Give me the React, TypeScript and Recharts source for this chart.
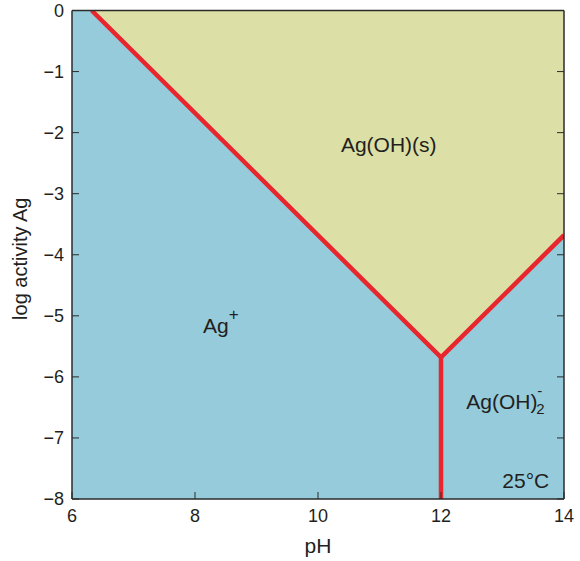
import React from "react";
import {
  ComposedChart,
  XAxis,
  YAxis,
  Area,
  Line,
  ReferenceArea,
  ReferenceDot,
} from "recharts";

// Ag predominance diagram at 25 °C: log activity Ag vs pH
const PH_TICKS = [6, 8, 10, 12, 14];
const LOG_TICKS = [0, -1, -2, -3, -4, -5, -6, -7, -8];
const PH_DOMAIN = [6, 14];
const LOG_DOMAIN = [-8, 0];

// Ag(OH)(s) solubility boundary (slope -1 against Ag+, slope +1 against Ag(OH)2-)
const solidBoundary = [
  { ph: 6.32, log: 0 },
  { ph: 12, log: -5.68 },
  { ph: 14, log: -3.68 },
];

// Ag+ / Ag(OH)2- aqueous boundary
const aqueousBoundary = [
  { ph: 12, log: -5.68 },
  { ph: 12, log: -8 },
];

// Field labels anchored in data units
const fieldLabels = [
  { id: "solid", ph: 11.15, log: -2.32 },
  { id: "ion", ph: 8.13, log: -5.28 },
  { id: "complex", ph: 12.41, log: -6.53 },
  { id: "temp", ph: 13.76, log: -7.82 },
];

const solidField = solidBoundary.map((p) => ({ ph: p.ph, range: [p.log, 0] }));

const FONT = '"Liberation Sans", Arial, Helvetica, sans-serif';
const AQUEOUS = "#95CBDA";
const SOLID = "#DCE0A7";
const BOUNDARY = "#E8262D";
const INK = "#231f20";
const AXIS = "#2b2b2b";

const fmtLog = (v: number) => (v < 0 ? "\u2212" + Math.abs(v) : String(v));

const NoTick = () => <g />;

function renderLabel(id: string) {
  return (props: any) => {
    const { cx, cy } = props;
    const common = { fontFamily: FONT, fill: INK, fontSize: 21 };
    if (id === "solid") {
      return (
        <text x={cx} y={cy} textAnchor="middle" {...common}>
          Ag(OH)(s)
        </text>
      );
    }
    if (id === "ion") {
      return (
        <text x={cx} y={cy} textAnchor="start" {...common}>
          Ag
          <tspan fontSize={17} dx={0} dy={-13}>
            +
          </tspan>
        </text>
      );
    }
    if (id === "complex") {
      return (
        <g>
          <text x={cx} y={cy} textAnchor="start" {...common}>
            Ag(OH)
          </text>
          <text x={cx + 70} y={cy + 5} textAnchor="start" {...common} fontSize={15}>
            2
          </text>
          <text x={cx + 71} y={cy - 13} textAnchor="start" {...common} fontSize={15}>
            -
          </text>
        </g>
      );
    }
    return (
      <text x={cx} y={cy} textAnchor="end" {...common}>
        25°C
      </text>
    );
  };
}

export default function App() {
  return (
    <div style={{ position: "absolute", left: 0, top: 0, background: "#fff" }}>
      <ComposedChart
        width={580}
        height={561}
        margin={{ top: 9.5, right: 15, bottom: 12, left: 0 }}
      >
        <ReferenceArea
          x1={PH_DOMAIN[0]}
          x2={PH_DOMAIN[1]}
          y1={LOG_DOMAIN[0]}
          y2={LOG_DOMAIN[1]}
          fill={AQUEOUS}
          fillOpacity={1}
          stroke="none"
          ifOverflow="extendDomain"
        />
        <Area
          data={solidField}
          dataKey="range"
          type="linear"
          fill={SOLID}
          fillOpacity={1}
          stroke="none"
          isAnimationActive={false}
        />
        <Line
          data={solidBoundary}
          dataKey="log"
          type="linear"
          stroke={BOUNDARY}
          strokeWidth={4.5}
          dot={false}
          activeDot={false}
          isAnimationActive={false}
        />
        <Line
          data={aqueousBoundary}
          dataKey="log"
          type="linear"
          stroke={BOUNDARY}
          strokeWidth={4.5}
          dot={false}
          activeDot={false}
          isAnimationActive={false}
        />
        {fieldLabels.map((l) => (
          <ReferenceDot
            key={l.id}
            x={l.ph}
            y={l.log}
            r={0}
            shape={renderLabel(l.id)}
          />
        ))}
        <XAxis
          dataKey="ph"
          type="number"
          domain={PH_DOMAIN}
          ticks={PH_TICKS}
          allowDataOverflow
          height={50}
          tickSize={-7}
          tickMargin={17}
          axisLine={{ stroke: AXIS, strokeWidth: 1.5 }}
          tickLine={{ stroke: AXIS, strokeWidth: 1 }}
          tick={{ fontSize: 18, fill: INK, fontFamily: FONT }}
          label={(p: any) => {
            const vb = p.viewBox;
            return (
              <text
                x={vb.x + vb.width / 2}
                y={vb.y + 54}
                textAnchor="middle"
                fontSize={21}
                fill={INK}
                fontFamily={FONT}
              >
                pH
              </text>
            );
          }}
        />
        <XAxis
          xAxisId="top"
          orientation="top"
          type="number"
          domain={PH_DOMAIN}
          ticks={PH_TICKS}
          allowDataOverflow
          height={1}
          tickSize={-5}
          tick={NoTick}
          axisLine={{ stroke: AXIS, strokeWidth: 1.5 }}
          tickLine={{ stroke: AXIS, strokeWidth: 1 }}
        />
        <YAxis
          type="number"
          domain={LOG_DOMAIN}
          ticks={LOG_TICKS}
          allowDataOverflow
          width={72}
          tickSize={-7}
          tickMargin={15}
          tickFormatter={fmtLog}
          axisLine={{ stroke: AXIS, strokeWidth: 1.5 }}
          tickLine={{ stroke: AXIS, strokeWidth: 1 }}
          tick={{ fontSize: 18, fill: INK, fontFamily: FONT }}
          label={(p: any) => {
            const vb = p.viewBox;
            const cy = vb.y + vb.height / 2 + 4;
            return (
              <text
                x={27}
                y={cy}
                transform={`rotate(-90 27 ${cy})`}
                textAnchor="middle"
                fontSize={20}
                fill={INK}
                fontFamily={FONT}
              >
                log activity Ag
              </text>
            );
          }}
        />
        <YAxis
          yAxisId="right"
          orientation="right"
          type="number"
          domain={LOG_DOMAIN}
          ticks={LOG_TICKS}
          allowDataOverflow
          width={1}
          tickSize={-7}
          tick={NoTick}
          axisLine={{ stroke: AXIS, strokeWidth: 1.5 }}
          tickLine={{ stroke: AXIS, strokeWidth: 1 }}
        />
      </ComposedChart>
    </div>
  );
}
